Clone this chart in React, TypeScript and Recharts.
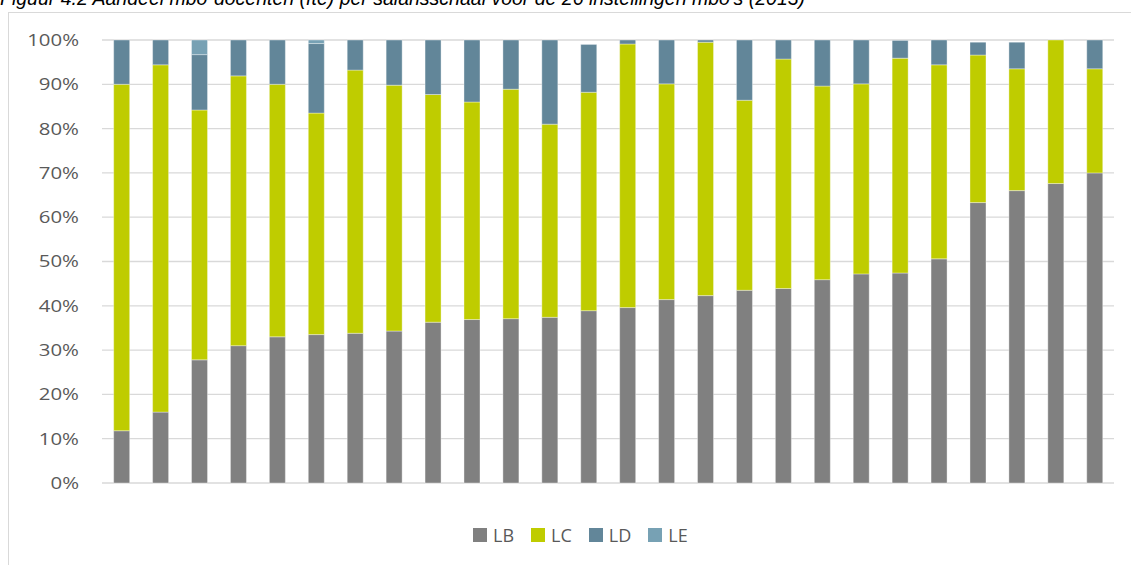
import React from 'react';
import { BarChart, Bar, XAxis, YAxis, CartesianGrid, Legend } from 'recharts';

const categories = ['1','2','3','4','5','6','7','8','9','10','11','12','13','14','15','16','17','18','19','20','21','22','23','24','25','26'];
const lbValues = [11.8,16.0,27.8,31.0,33.0,33.5,33.8,34.3,36.3,36.9,37.1,37.4,38.9,39.6,41.4,42.3,43.5,43.9,45.9,47.2,47.4,50.6,63.3,66.0,67.6,70.0];
const lcValues = [78.2,78.4,56.4,60.9,57.0,50.0,59.4,55.5,51.4,49.1,51.8,43.6,49.3,59.5,48.7,57.2,42.9,51.8,43.7,42.9,48.5,43.8,33.3,27.5,32.4,23.5];
const ldValues = [10.0,5.6,12.5,8.1,10.0,15.7,6.8,10.2,12.3,14.0,11.1,19.0,10.8,0.9,9.9,0.5,13.6,4.3,10.4,9.9,4.0,5.6,2.9,6.0,0,6.5];
const leValues = [0,0,3.3,0,0,0.8,0,0,0,0,0,0,0,0,0,0,0,0,0,0,0,0,0,0,0,0];
const yTicks = [0,10,20,30,40,50,60,70,80,90,100];
const seriesNames = ['LB','LC','LD','LE'];
const seriesColors = ['#808080','#bfcc00','#628699','#77a1b4'];
const titleText = "Figuur 4.2 Aandeel mbo-docenten (fte) per salarisschaal voor de 26 instellingen mbo's (2013)";

const data = categories.map((c, i) => ({
  name: c,
  LB: lbValues[i],
  LC: lcValues[i],
  LD: ldValues[i],
  LE: leValues[i],
}));

const YTick = (props: any) => {
  const { x, y, payload } = props;
  return (
    <text
      x={x}
      y={y}
      dy={6}
      textAnchor="end"
      fill="#595959"
      fontSize={17}
      fontFamily="'Open Sans', sans-serif"
      transform={`translate(${x},0) scale(1.2,1) translate(${-x},0)`}
    >
      {payload.value + '%'}
    </text>
  );
};

const LegendContent = () => (
  <div style={{ display: 'flex', alignItems: 'center', height: 20 }}>
    {seriesNames.map((n, i) => (
      <div key={n} style={{ display: 'flex', alignItems: 'center', marginRight: 17 }}>
        <div style={{ width: 14, height: 14, background: seriesColors[i], marginRight: 6 }} />
        <span style={{ fontFamily: "'Open Sans', sans-serif", fontSize: 18, color: '#595959', lineHeight: '20px' }}>{n}</span>
      </div>
    ))}
  </div>
);

export default function App() {
  return (
    <div style={{ position: 'absolute', left: 0, top: 0, width: 1131, height: 565, overflow: 'hidden', background: '#fff' }}>
      <div style={{ position: 'absolute', left: 0, top: -13, fontFamily: "'Liberation Sans', Arial, sans-serif", fontStyle: 'italic', fontSize: 19.5, color: '#000', whiteSpace: 'nowrap' }}>
        {titleText}
      </div>
      <div style={{ position: 'absolute', left: 8, top: 12, width: 1200, height: 600, border: '1px solid #d9d9d9' }} />
      <div style={{ position: 'absolute', left: 0, top: 0 }}>
        <BarChart
          width={1131}
          height={565}
          data={data}
          margin={{ top: 40, right: 17, bottom: 62, left: 0 }}
          barCategoryGap="30%"
        >
          <CartesianGrid vertical={false} stroke="#d9d9d9" strokeWidth={1.3} />
          <XAxis dataKey="name" hide />
          <YAxis
            domain={[0, 100]}
            ticks={yTicks}
            width={102}
            axisLine={false}
            tickLine={false}
            tickSize={6}
            tickMargin={17}
            tick={<YTick />}
            interval={0}
          />
          <Legend
            verticalAlign="bottom"
            content={<LegendContent />}
            wrapperStyle={{ left: 473, width: 320, bottom: 20 }}
          />
          {seriesNames.map((n, i) => (
            <Bar key={n} dataKey={n} stackId="a" fill={seriesColors[i]} stroke="rgba(255,255,255,0.45)" strokeWidth={0.8} isAnimationActive={false} />
          ))}
        </BarChart>
      </div>
    </div>
  );
}
